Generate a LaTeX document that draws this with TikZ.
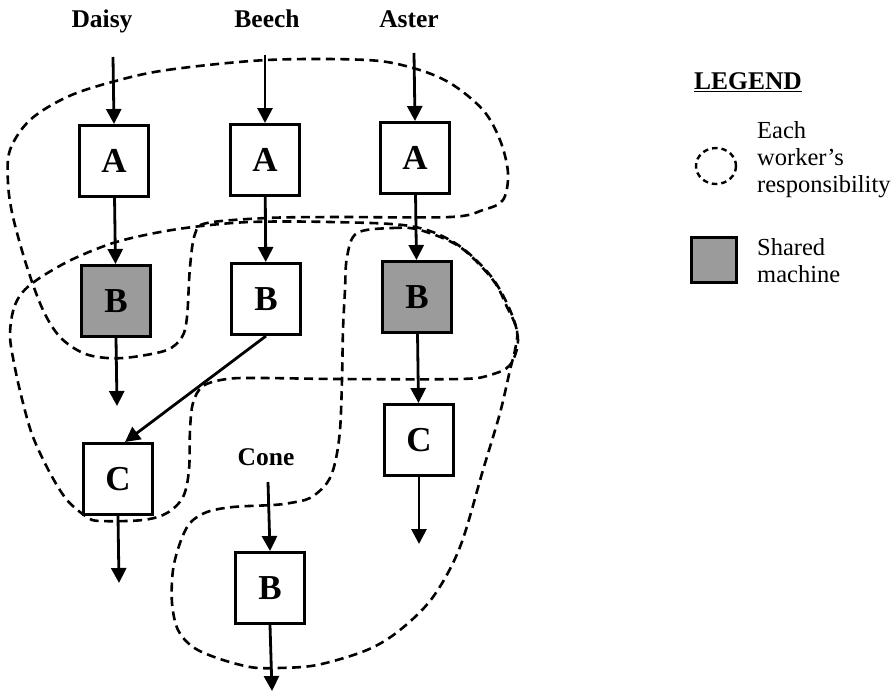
\documentclass[tikz,border=0pt]{standalone}
\usepackage{fontspec}
\setmainfont{Liberation Serif}
\usetikzlibrary{arrows.meta}
\definecolor{shadegray}{RGB}{155,155,155}
\tikzset{
  machine/.style={draw, line width=3pt, minimum width=69pt, minimum height=71pt,
    inner sep=0pt, font=\fontsize{35}{35}\selectfont\bfseries, fill=white},
  shared/.style={machine, fill=shadegray},
  flow/.style={line width=2.8pt, -{Triangle[length=15pt,width=15pt]}},
  worker/.style={font=\fontsize{25.5}{27}\selectfont\bfseries},
  zone/.style={line width=2.6pt, dash pattern=on 9pt off 5.5pt},
  legendtext/.style={font=\fontsize{24.5}{27}\selectfont, align=left, anchor=west, inner sep=0pt}
}
\begin{document}
\begin{tikzpicture}[x=1pt,y=-1pt]
\useasboundingbox (0,0) rectangle (895,694);

% worker zones
\draw[zone] plot[smooth cycle, tension=0.55] coordinates {
  (112,82) (167,70) (267,60) (367,60) (413,68) (450,83) (483,110) (500,140)
  (508,173) (503,200) (483,210) (450,217) (333,217) (267,218) (207,223)
  (195,234) (190,267) (187,317) (182,337) (167,350) (133,357) (107,358)
  (83,353) (60,337) (43,310) (27,267) (13,217) (8,183) (10,150) (30,120) (67,97)};

\draw[zone] plot[smooth cycle, tension=0.55] coordinates {
  (10,335) (15,305) (30,285) (67,262) (110,244) (150,234) (193,227) (250,222)
  (330,222) (410,226) (455,243) (490,275) (510,310) (518,340) (510,365)
  (490,375) (460,379) (340,379) (260,378) (227,379) (203,386) (193,403)
  (190,430) (189,470) (183,497) (167,513) (143,520) (100,521) (87,517)
  (67,500) (50,473) (33,437) (23,403) (15,368)};

\draw[zone] plot[smooth cycle, tension=0.55] coordinates {
  (357,233) (393,228) (420,230) (460,247) (493,280) (507,307) (517,330)
  (515,350) (510,370) (500,413) (483,470) (460,547) (433,597) (400,630)
  (367,650) (317,665) (277,668) (250,667) (217,658) (193,647) (178,630)
  (172,603) (173,570) (180,543) (190,523) (207,512) (233,507) (273,505)
  (290,503) (310,498) (327,483) (335,463) (340,430) (342,380) (343,330)
  (345,290) (347,257)};

% machines
\node[machine] (DA) at (114,161) {A};
\node[machine] (BA) at (265,160) {A};
\node[machine] (AA) at (415,158) {A};
\node[shared]  (DB) at (116,301) {B};
\node[machine] (BB) at (266,299) {B};
\node[shared]  (AB) at (417,297) {B};
\node[machine] (DC) at (118,479) {C};
\node[machine] (AC) at (419,440) {C};
\node[machine] (CB) at (270,588) {B};

% worker names
\node[worker] (daisy) at (102,21) {Daisy};
\node[worker] (beech) at (267,19) {Beech};
\node[worker] (aster) at (409,19) {Aster};
\node[worker] (cone)  at (266,457) {Cone};

% material flow
\coordinate (dIn) at (113,57);
\coordinate (bIn) at (265,55);
\coordinate (aIn) at (414,53);
\coordinate (dOutB) at (117,406);
\coordinate (dOutC) at (119,583);
\coordinate (aOutC) at (419,544);
\coordinate (cIn)  at (268,482);
\coordinate (cOut) at (272,691);

\draw[flow] (dIn) -- (DA.north);
\draw[flow] (bIn) -- (BA.north);
\draw[flow] (aIn) -- (AA.north);
\draw[flow] (DA) -- (DB);
\draw[flow] (BA) -- (BB);
\draw[flow] (AA) -- (AB);
\draw[flow] (DB.south) -- (dOutB);
\draw[flow] (BB.south) -- ([xshift=7pt]DC.north);
\draw[flow] (DC.south) -- (dOutC);
\draw[flow] (AB) -- (AC);
\draw[flow] (AC.south) -- (aOutC);
\draw[flow] (cIn) -- (CB.north);
\draw[flow] (CB.south) -- (cOut);

% legend
\node[font=\fontsize{25.5}{27}\selectfont\bfseries] (legend) at (748,82) {\underline{LEGEND}};
\draw[line width=2.4pt, dash pattern=on 5.5pt off 4pt] (716,166) ellipse [x radius=20, y radius=18];
\node[legendtext] (zonetext) at (757,160) {Each\\worker's\\responsibility};
\node[draw, line width=3pt, fill=shadegray, minimum size=45pt, inner sep=0pt] (sharedkey) at (714,260) {};
\node[legendtext] (sharedtext) at (757,261) {Shared\\machine};
\end{tikzpicture}
\end{document}
